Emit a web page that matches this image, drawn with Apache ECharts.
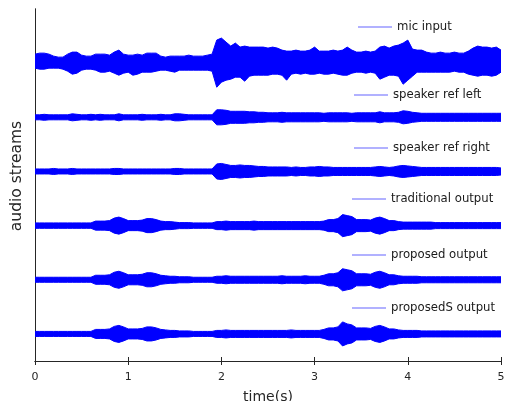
<!DOCTYPE html>
<html>
<head>
<meta charset="utf-8">
<script src="https://cdn.jsdelivr.net/npm/echarts@6/dist/echarts.min.js"></script>
<style>html,body{margin:0;padding:0;background:#fff}#c{width:507px;height:401px}</style>
</head>
<body>
<div id="c"></div>
<script>
// Sample grid: one envelope reading every 0.05 s, from 0 to 5 s (101 readings)
var sampleStep = 0.05;
var xTicks = [0, 1, 2, 3, 4, 5];
var traceNames = ['mic input', 'speaker ref left', 'speaker ref right', 'traditional output', 'proposed output', 'proposedS output'];
// vertical offset (baseline) of each stream on the hidden y axis
var traceOffsets = [298, 243, 189, 135, 81, 27];

// envelope readings (upper / lower excursion from the baseline)
var micUpper = [8,9,9,8,6,5,5,8,10,10, 7,6,6,8,8,8,7,10,12,8, 7,7,8,7,9,9,9,6,5,6, 6,6,6,7,6,6,6,7,8,22, 24,20,16,19,15,16,15,15,15,15,
  14,15,14,12,11,11,12,11,11,12,15, 11,11,11,12,11,12,15,12,10,10, 11,10,11,15,16,14,16,17,19,22, 13,12,12,10,9,9,10,9,9,10, 9,9,11,14,16,15,15,14,15,12];
var micLower = [6,7,7,6,6,6,7,9,12,11, 8,7,7,8,10,10,9,11,13,11, 10,13,12,10,10,10,9,8,8,9, 10,8,8,8,8,8,8,8,9,25, 20,18,17,15,15,19,14,13,13,13,
  13,12,12,13,18,12,11,12,11,12,12, 11,12,12,11,12,13,13,11,10,10, 11,10,11,17,15,13,13,14,22,18, 14,10,10,10,10,10,10,10,10,9, 10,10,12,13,14,13,13,14,13,10];
var spkLeft = [2.5,2.5,3,2.5,2.5,2.5,2.5,2.5,3.5,3, 2.5,2.5,3,2.5,3,2.5,2.5,2.5,3.5,2.5, 2.5,2.5,2.5,3,2.5,2.5,2.5,3,2.5,2.5, 3.5,3.5,3,2.5,2.5,2.5,2.5,2.5,2.5,7.5,
  7.5,7,6,6,6,6,5.5,5.5,5,5, 4.5,4.5,4.5,5,4.5,4.5,4.5,4.5,4.5,4.5, 4.5,4.5,4,4.5,4.5,4.5,4.5,4.5,4,4.5, 4.5,4.5,4.5,4.5,5.5,4.5,4.5,4.5,5,6.5, 6,5,4.5,4,4,4,4,4,4,4, 4,4,4,4,4,4,4,4,4,4,4];
var spkRight = [2.5,2.5,2.5,2.5,3,2.5,2.5,2.5,3,2.5, 2.5,2.5,2.5,2.5,2.5,2.5,2.5,3,3,2.5, 2.5,2.5,2.5,2.5,2.5,2.5,2.5,2.5,2.5,2.5, 3,3,2.5,2.5,2.5,2.5,2.5,2.5,2.5,7.5,
  8,7,6,6,6.5,6,6,5.5,5,5, 4.5,4.5,4.5,4.5,4.5,4,4.5,4,4,4.5, 4.5,5,4.5,4.5,4,4,4,4,4,4, 4,4,4,4.5,5,4.5,4,4.5,5.5,6, 5.5,5,4.5,4,4,4,4,4,4,4, 4,4,4,4,4,4,4,4,4,4,3.5];
var tradOut = [2.7,2.7,2.7,2.7,2.7,2.7,2.7,2.7,2.7,2.7, 2.7,2.7,2.7,4.5,4.5,4.5,5,7.5,8.5,7, 5,5,5,5.5,7,7,6,4.5,4,4, 3.5,3,3,3,2.7,2.7,2.7,2.7,2.7,4,
  4,4.5,4,4,4,4,4,4.5,4,4, 4,4,4,4,4,4,4,4,4,4, 4,4,4.5,6,6,7,11,10,9,6, 6,6,5.5,7.5,8.5,7,5,5,4,3.5, 3.5,3.5,3.5,3.5,3.5,3.5,3,3,3,3, 3,3,3,3,3,3,3,3,3,3,3];
var propOut = [2.5,2.5,2.5,2.5,2.5,2.5,2.5,2.5,2.5,2.5, 2.5,2.5,2.5,4.5,4.5,4.5,5,7.5,8.5,7, 5,5,5,5.5,7,7,6,4.5,4,3.5, 3.5,3,3,3,2.5,2.5,2.5,2.5,2.5,3.5,
  3.5,4,3.5,3.5,3.5,3.5,3.5,3.5,3.5,3.5, 3.5,3.5,3.5,4,3.5,3.5,3.5,3.5,4,3.5, 3.5,3.5,4.5,6,6,7,11,10,9,6, 6,6,5.5,7.5,8.5,7,5,5,4,3.5, 3.5,3.5,3.5,3,3,3,3,3,3,3, 3,3,3,3,3,3,3,3,3,3,3];
var propSOut = [2.5,2.5,2.5,2.5,2.5,2.5,2.5,2.5,2.5,2.5, 2.5,2.5,2.5,4.5,4.5,4.5,5,7.5,8.5,7, 5,5,5,5.5,7,7,6,4.5,4,3.5, 3.5,3,3,3,2.5,2.5,2.5,2.5,2.5,3.5,
  3.5,4,3.5,3.5,3.5,3.5,3.5,3.5,3.5,3.5, 3.5,3.5,3.5,3.5,3.5,4,3.5,3.5,3.5,3.5, 3.5,3.5,4.5,6,6,7,12,10,9,6, 6,6,5.5,7.5,8.5,7,5,5,4,3.5, 3.5,3.5,3.5,3,3,3,3,3,3,3, 3,3,3,3,3,3,3,3,3,3,3];

var upperSets = [micUpper, spkLeft, spkRight, tradOut, propOut, propSOut];
var lowerSets = [micLower, spkLeft, spkRight, tradOut, propOut, propSOut];

// legend placement (left edge of key line, vertical centre)
var legendLeft = [358, 354, 354, 352, 352, 352];
var legendY = [28, 96, 149, 200, 256, 309];

var blue = '#0000ff';
var fillOverlap = 1.5; // the two half-fills overlap slightly so no seam shows on the baseline
var series = [];
traceNames.forEach(function (name, k) {
  var up = upperSets[k], lo = lowerSets[k], c = traceOffsets[k];
  var top = [], bot = [];
  for (var i = 0; i < up.length; i++) {
    var t = +(i * sampleStep).toFixed(2);
    top.push([t, c + up[i]]);
    bot.push([t, c - lo[i]]);
  }
  series.push({
    type: 'line', name: name, data: top,
    symbol: 'none', silent: true, animation: false, color: blue,
    lineStyle: { color: blue, width: 1 },
    areaStyle: { color: blue, opacity: 1, origin: c - fillOverlap }
  });
  series.push({
    type: 'line', name: name, data: bot,
    symbol: 'none', silent: true, animation: false, color: blue,
    lineStyle: { color: blue, width: 1 },
    areaStyle: { color: blue, opacity: 1, origin: c + fillOverlap }
  });
});

var legends = traceNames.map(function (n, i) {
  return {
    data: [n], left: legendLeft[i], top: legendY[i] - 7, padding: 0,
    icon: 'rect', itemWidth: 34, itemHeight: 1.2, itemGap: 0,
    selectedMode: false,
    itemStyle: { color: '#6464ff' },
    textStyle: { fontFamily: 'DejaVu Sans', fontSize: 11.7, color: '#1a1a1a' }
  };
});

var axisColor = '#262626';
var chart = echarts.init(document.getElementById('c'), null, { renderer: 'canvas' });
chart.setOption({
  animation: false,
  backgroundColor: '#ffffff',
  grid: { left: 35, right: 6, top: 9, bottom: 40, containLabel: false, outerBoundsMode: 'none' },
  legend: legends,
  xAxis: [{
    type: 'value', min: xTicks[0], max: xTicks[xTicks.length - 1], interval: 1, position: 'bottom',
    axisLine: { lineStyle: { color: axisColor, width: 1 } },
    axisTick: { inside: true, length: 4, lineStyle: { color: axisColor } },
    axisLabel: { fontFamily: 'DejaVu Sans', fontSize: 11, color: axisColor, margin: 11 },
    splitLine: { show: false },
    name: 'time(s)', nameLocation: 'middle', nameGap: 29,
    nameTextStyle: { fontFamily: 'DejaVu Sans', fontSize: 14, color: axisColor }
  }, {
    type: 'value', min: xTicks[0], max: xTicks[xTicks.length - 1], interval: 1, position: 'top',
    axisLine: { lineStyle: { color: axisColor, width: 1 } },
    axisTick: { inside: true, length: 4, lineStyle: { color: axisColor } },
    axisLabel: { show: false }, splitLine: { show: false }
  }],
  yAxis: [{
    type: 'value', min: 0, max: 351, position: 'left',
    axisLine: { show: true, lineStyle: { color: axisColor, width: 1 } },
    axisTick: { show: false }, axisLabel: { show: false }, splitLine: { show: false },
    name: 'audio streams', nameLocation: 'middle', nameGap: 10, nameRotate: 90,
    nameTextStyle: { fontFamily: 'DejaVu Sans', fontSize: 15.5, color: axisColor, padding: [0, 0, 0, 18] }
  }, {
    type: 'value', min: 0, max: 351, position: 'right',
    axisLine: { show: true, lineStyle: { color: axisColor, width: 1 } },
    axisTick: { show: false }, axisLabel: { show: false }, splitLine: { show: false }
  }],
  series: series
});
</script>
</body>
</html>
